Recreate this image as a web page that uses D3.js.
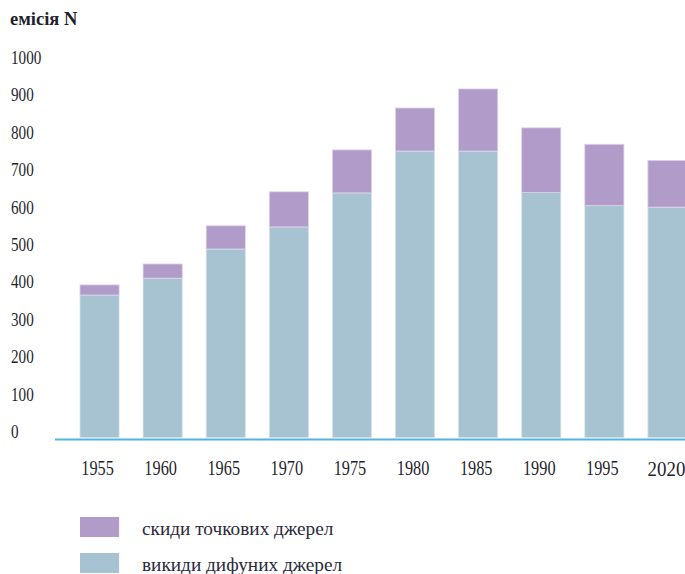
<!DOCTYPE html>
<html>
<head>
<meta charset="utf-8">
<script src="https://cdn.jsdelivr.net/npm/d3@7"></script>
<style>
    body { margin: 0; background: #fff; }
    svg { display: block; }
</style>
</head>
<body>
<svg class="chart__svg" width="685" height="574"></svg>
<script>
// years on the x axis
const years = ['1955', '1960', '1965', '1970', '1975', '1980', '1985', '1990', '1995', '2020']
// diffuse sources (bottom part)
const diffuse = [381, 426, 504, 563, 654, 766, 766, 655, 620, 616]
// point sources (top part)
const point = [27, 38, 62, 94, 115, 115, 166, 173, 164, 125]
const yTicks = [0, 100, 200, 300, 400, 500, 600, 700, 800, 900, 1000]
const seriesNames = ['скиди точкових джерел', 'викиди дифуних джерел']
const yTitle = 'емісія N'

const colorDiffuse = '#a7c3d1'
const colorPoint = '#b19cc9'
const colorText = '#1f1f2e'
const colorAxis = '#52b5dd'
const serif = '"Liberation Serif", "DejaVu Serif", serif'

const svg = d3.select('.chart__svg')

const x = d3.scaleBand()
    .domain(years)
    .range([56, 711])
    .paddingInner(0.38)
    .paddingOuter(0.38)

const y = d3.scaleLinear()
    .domain([0, 1000])
    .range([437.5, 63.5])

const rows = years.map((year, i) => ({ year: year, diffuse: diffuse[i], point: point[i] }))
const stacked = d3.stack().keys(['diffuse', 'point'])(rows)

// bars
svg.append('g')
    .selectAll('g')
    .data(stacked)
    .join('g')
    .attr('fill', (d) => d.key === 'diffuse' ? colorDiffuse : colorPoint)
    .attr('stroke', (d) => d.key === 'diffuse' ? '#d6e3ea' : '#ddd2ea')
    .attr('stroke-width', 0.8)
    .selectAll('rect')
    .data((d) => d)
    .join('rect')
    .attr('x', (d) => x(d.data.year))
    .attr('width', x.bandwidth())
    .attr('y', (d) => y(d[1]))
    .attr('height', (d) => y(d[0]) - y(d[1]))

// y axis, labels only
const yAxis = svg.append('g')
    .call(d3.axisLeft(y).tickValues(yTicks).tickSize(0).tickFormat(d3.format('d')))
yAxis.select('.domain').remove()
yAxis.selectAll('text')
    .attr('x', 11 / 0.82)
    .attr('dy', 0)
    .attr('transform', 'scale(0.82,1)')
    .attr('text-anchor', 'start')
    .attr('fill', colorText)
    .style('font-family', serif)
    .style('font-size', '18.5px')

// x axis with the blue base line
const xAxis = svg.append('g')
    .attr('transform', 'translate(0,439.5)')
    .call(d3.axisBottom(x).tickSize(0).tickSizeOuter(0))
xAxis.select('.domain')
    .attr('stroke', colorAxis)
    .attr('stroke-width', 2)
    .attr('d', 'M55,0H685')
xAxis.selectAll('text')
    .attr('y', (d) => d === '2020' ? 37 : 35.5)
    .attr('dy', 0)
    .attr('x', 0)
    .attr('transform', (d) => d === '2020' ? 'translate(-1,0) scale(0.86,1)' : 'translate(-2,0) scale(0.74,1)')
    .attr('fill', colorText)
    .style('font-family', serif)
    .style('font-size', '22px')

// title
svg.append('text')
    .attr('x', 10)
    .attr('y', 25)
    .attr('fill', colorText)
    .style('font-family', serif)
    .style('font-size', '18.5px')
    .style('font-weight', 'bold')
    .text(yTitle)

// legend
const legend = svg.append('g')
    .selectAll('g')
    .data(seriesNames)
    .join('g')
    .attr('transform', (d, i) => `translate(80,${517 + i * 36})`)

legend.append('rect')
    .attr('width', x.bandwidth())
    .attr('height', 20)
    .attr('fill', (d, i) => i === 0 ? colorPoint : colorDiffuse)

legend.append('text')
    .attr('x', 62)
    .attr('y', 18)
    .attr('fill', '#2a2a3a')
    .style('font-family', serif)
    .style('font-size', '19.3px')
    .text((d) => d)
</script>
</body>
</html>
